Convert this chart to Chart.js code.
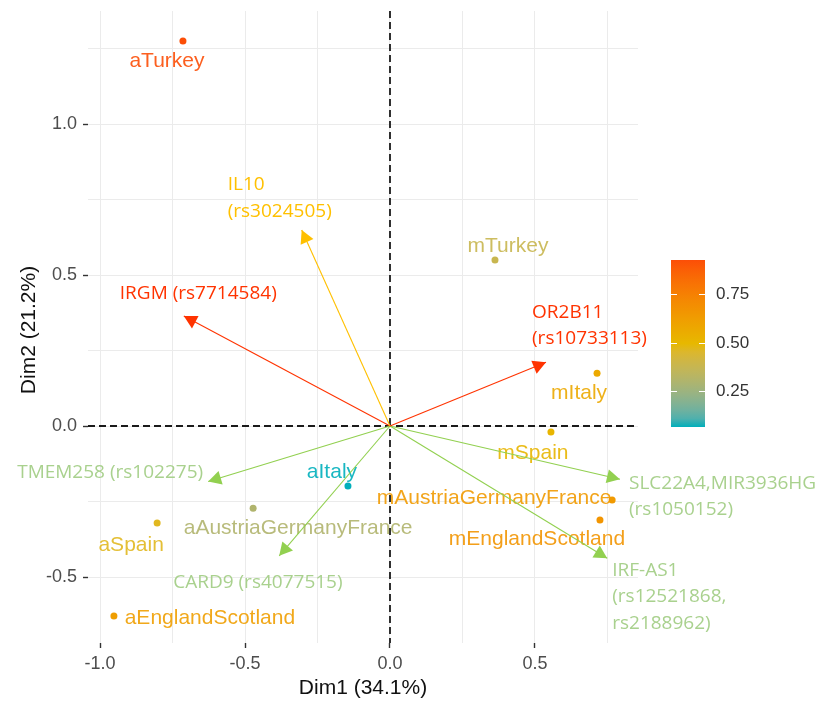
<!DOCTYPE html>
<html>
<head>
<meta charset="utf-8">
<script src="https://cdn.jsdelivr.net/npm/chart.js@4/dist/chart.umd.min.js"></script>
<style>
  html, body { margin: 0; padding: 0; background: #ffffff; }
  #wrap { width: 816px; height: 702px; }
</style>
</head>
<body>
<div id="wrap"><canvas id="c" width="816" height="702"></canvas></div>
<script>
// ---- Individuals: population groups on the first two dimensions ----
const groupNames = ['aTurkey', 'mTurkey', 'mItaly', 'mSpain', 'aItaly',
  'aAustriaGermanyFrance', 'aSpain', 'aEnglandScotland',
  'mAustriaGermanyFrance', 'mEnglandScotland'];
const groupDim1 = [-0.714, 0.362, 0.714, 0.555, -0.145, -0.472, -0.803, -0.952, 0.766, 0.724];
const groupDim2 = [1.275, 0.550, 0.175, -0.020, -0.199, -0.272, -0.321, -0.629, -0.245, -0.311];
const groupCos2 = [0.928, 0.38, 0.57, 0.51, 0.062, 0.30, 0.47, 0.62, 0.64, 0.66];
// repelled label placement, pixels from the point
const groupLabelDx = [-16, 13, -18, -18, -16, 45, -26, 96, -118, -63];
const groupLabelDy = [20, -14, 20, 21, -14, 20, 22, 2, -2, 19];

// ---- Variables: SNP loadings ----
const snpLabels = [
  ['IL10', '(rs3024505)'],
  ['IRGM (rs7714584)'],
  ['OR2B11', '(rs10733113)'],
  ['TMEM258 (rs102275)'],
  ['CARD9 (rs4077515)'],
  ['SLC22A4,MIR3936HG', '(rs1050152)'],
  ['IRF-AS1', '(rs12521868,', 'rs2188962)']
];
const snpDim1 = [-0.3045, -0.711, 0.538, -0.627, -0.382, 0.793, 0.749];
const snpDim2 = [0.649, 0.364, 0.211, -0.184, -0.430, -0.176, -0.438];
const snpLineColors = ['#FFC000', '#FF3300', '#FF3300', '#92D050', '#92D050', '#92D050', '#92D050'];
const snpTextColors = ['#FFC000', '#FF3300', '#FF3300', '#A9D18E', '#A9D18E', '#A9D18E', '#A9D18E'];
// label placement, pixels from the arrow tip (left edge, first line middle)
const snpLabelDx = [-74, -64, -14, -191, -106, 9, 5];
const snpLabelDy = [-45, -22, -50, -9, 27, 4, 12];

// ---- Axes ----
const xTicks = [-1, -0.75, -0.5, -0.25, 0, 0.25, 0.5, 0.75];
const yTicks = [-0.5, -0.25, 0, 0.25, 0.5, 0.75, 1, 1.25];
const legendTicks = [0.25, 0.5, 0.75];
const xTitle = 'Dim1 (34.1%)';
const yTitle = 'Dim2 (21.2%)';

// ---- colour ramp interpolated in CIELAB ----
const rampHex = ['#00AFBB', '#E7B800', '#FC4E07'];
function hexRgb(h) { return [1, 3, 5].map(i => parseInt(h.slice(i, i + 2), 16)); }
function toLab(rgb) {
  const [R, G, B] = rgb.map(c => { c /= 255; return c <= 0.04045 ? c / 12.92 : Math.pow((c + 0.055) / 1.055, 2.4); });
  const X = (0.4124564 * R + 0.3575761 * G + 0.1804375 * B) / 0.95047;
  const Y = (0.2126729 * R + 0.7151522 * G + 0.0721750 * B);
  const Z = (0.0193339 * R + 0.1191920 * G + 0.9503041 * B) / 1.08883;
  const f = t => t > 216 / 24389 ? Math.cbrt(t) : (24389 / 27 * t + 16) / 116;
  const fx = f(X), fy = f(Y), fz = f(Z);
  return [116 * fy - 16, 500 * (fx - fy), 200 * (fy - fz)];
}
function fromLab([L, a, b]) {
  const fy = (L + 16) / 116, fx = fy + a / 500, fz = fy - b / 200;
  const inv = t => { const t3 = t * t * t; return t3 > 216 / 24389 ? t3 : (116 * t - 16) / (24389 / 27); };
  const X = inv(fx) * 0.95047, Y = inv(fy), Z = inv(fz) * 1.08883;
  const R = 3.2404542 * X - 1.5371385 * Y - 0.4985314 * Z;
  const G = -0.9692660 * X + 1.8760108 * Y + 0.0415560 * Z;
  const B = 0.0556434 * X - 0.2040259 * Y + 1.0572252 * Z;
  const rgb = [R, G, B].map(c => {
    c = c <= 0.0031308 ? 12.92 * c : 1.055 * Math.pow(c, 1 / 2.4) - 0.055;
    return Math.round(Math.max(0, Math.min(1, c)) * 255);
  });
  return 'rgb(' + rgb.join(',') + ')';
}
const rampLab = rampHex.map(h => toLab(hexRgb(h)));
const cosMin = Math.min(...groupCos2), cosMax = Math.max(...groupCos2);
function rampColor(v) {
  let t = (v - cosMin) / (cosMax - cosMin);
  t = Math.max(0, Math.min(1, t));
  const seg = t < 0.5 ? 0 : 1;
  const u = (t - seg * 0.5) / 0.5;
  const A = rampLab[seg], B = rampLab[seg + 1];
  return fromLab([0, 1, 2].map(i => A[i] + (B[i] - A[i]) * u));
}
const groupColors = groupCos2.map(rampColor);

const isMajor = v => v !== undefined && Math.abs(v * 2 - Math.round(v * 2)) < 1e-9;

// ---- extra drawing: zero lines, labels, arrow heads, colour bar, titles ----
const biplotPlugin = {
  id: 'biplot',
  beforeDatasetsDraw(chart) {
    const { ctx, chartArea: a, scales: { x, y } } = chart;
    const x0 = x.getPixelForValue(0), y0 = y.getPixelForValue(0);
    ctx.save();
    ctx.strokeStyle = '#1a1a1a';
    ctx.lineWidth = 1.8;
    ctx.setLineDash([7, 4]);
    ctx.beginPath();
    ctx.moveTo(x0, a.top); ctx.lineTo(x0, a.bottom);
    ctx.moveTo(a.left, y0); ctx.lineTo(a.right, y0);
    ctx.stroke();
    ctx.setLineDash([]);
    // group labels
    ctx.font = '21px "Liberation Sans", Arial, sans-serif';
    ctx.textAlign = 'center';
    ctx.textBaseline = 'middle';
    groupNames.forEach((n, i) => {
      const px = x.getPixelForValue(groupDim1[i]), py = y.getPixelForValue(groupDim2[i]);
      ctx.fillStyle = groupColors[i];
      ctx.globalAlpha = 0.9;
      ctx.fillText(n, px + groupLabelDx[i], py + groupLabelDy[i]);
    });
    ctx.restore();
  },
  afterDatasetsDraw(chart) {
    const { ctx, chartArea: a, scales: { x, y } } = chart;
    const ox = x.getPixelForValue(0), oy = y.getPixelForValue(0);
    ctx.save();
    // arrow heads and SNP labels
    snpDim1.forEach((d1, i) => {
      const tx = x.getPixelForValue(d1), ty = y.getPixelForValue(snpDim2[i]);
      const len = Math.hypot(tx - ox, ty - oy);
      const ux = (tx - ox) / len, uy = (ty - oy) / len;
      const bx = tx - 13 * ux, by = ty - 13 * uy;
      ctx.fillStyle = snpLineColors[i];
      ctx.beginPath();
      ctx.moveTo(tx, ty);
      ctx.lineTo(bx - 7 * uy, by + 7 * ux);
      ctx.lineTo(bx + 7 * uy, by - 7 * ux);
      ctx.closePath();
      ctx.fill();
      ctx.font = '19px "Open Sans", sans-serif';
      ctx.textAlign = 'left';
      ctx.textBaseline = 'middle';
      ctx.fillStyle = snpTextColors[i];
      snpLabels[i].forEach((line, k) => {
        ctx.fillText(line, tx + snpLabelDx[i], ty + snpLabelDy[i] + k * 26.5);
      });
    });

    // colour bar
    const barL = 671, barR = 705, barT = 260, barB = 427;
    const vy = v => barB - (v - cosMin) / (cosMax - cosMin) * (barB - barT);
    const grad = ctx.createLinearGradient(0, barB, 0, barT);
    for (let s = 0; s <= 20; s++) {
      grad.addColorStop(s / 20, rampColor(cosMin + (cosMax - cosMin) * s / 20));
    }
    ctx.fillStyle = grad;
    ctx.fillRect(barL, barT, barR - barL, barB - barT);
    ctx.strokeStyle = '#ffffff';
    ctx.lineWidth = 1.2;
    ctx.font = '17px "Liberation Sans", Arial, sans-serif';
    ctx.fillStyle = '#333333';
    ctx.textAlign = 'left';
    ctx.textBaseline = 'middle';
    legendTicks.forEach(v => {
      const py = Math.round(vy(v)) + 0.5;
      ctx.beginPath();
      ctx.moveTo(barL, py); ctx.lineTo(barL + 6, py);
      ctx.moveTo(barR - 6, py); ctx.lineTo(barR, py);
      ctx.stroke();
      ctx.fillText(v.toFixed(2), 716, py);
    });

    // axis titles
    ctx.fillStyle = '#111111';
    ctx.font = '21px "Liberation Sans", Arial, sans-serif';
    ctx.textAlign = 'center';
    ctx.textBaseline = 'middle';
    ctx.fillText(xTitle, (a.left + a.right) / 2, 688);
    ctx.translate(29, (a.top + a.bottom) / 2 + 3);
    ctx.rotate(-Math.PI / 2);
    ctx.fillText(yTitle, 0, 0);
    ctx.restore();
  }
};

const pointsDataset = {
  label: 'groups',
  data: groupDim1.map((v, i) => ({ x: v, y: groupDim2[i] })),
  pointRadius: 3.5,
  pointBackgroundColor: groupColors,
  pointBorderWidth: 0,
  showLine: false
};
const arrowDatasets = snpDim1.map((v, i) => ({
  label: snpLabels[i].join(' '),
  data: [{ x: 0, y: 0 }, { x: v, y: snpDim2[i] }],
  showLine: true,
  borderColor: snpLineColors[i],
  borderWidth: 1.1,
  pointRadius: 0
}));

const tickFont = { family: 'Liberation Sans', size: 18 };
function axisGrid() {
  return {
    color: '#EBEBEB',
    lineWidth: 1,
    tickLength: 5,
    tickWidth: 1.4,
    tickColor: ctx => (ctx.tick && isMajor(ctx.tick.value)) ? '#333333' : 'rgba(0,0,0,0)'
  };
}

new Chart(document.getElementById('c'), {
  type: 'scatter',
  data: { datasets: [pointsDataset, ...arrowDatasets] },
  options: {
    responsive: false,
    animation: false,
    devicePixelRatio: 1,
    layout: { padding: { left: 0, top: 11, right: 178, bottom: 0 } },
    plugins: { legend: { display: false }, tooltip: { enabled: false } },
    scales: {
      x: {
        type: 'linear', min: -1.0414, max: 0.8552,
        afterFit(s) { s.height = 59; s.paddingLeft = 0; s.paddingRight = 0; },
        afterBuildTicks(s) { s.ticks = xTicks.map(v => ({ value: v })); },
        grid: axisGrid(),
        border: { display: false },
        ticks: {
          autoSkip: false, maxRotation: 0, minRotation: 0, padding: 5,
          color: '#4D4D4D', font: tickFont,
          callback: v => isMajor(v) ? v.toFixed(1) : ''
        }
      },
      y: {
        type: 'linear', min: -0.7185, max: 1.3742,
        afterFit(s) { s.width = 88; s.paddingTop = 0; s.paddingBottom = 0; },
        afterBuildTicks(s) { s.ticks = yTicks.map(v => ({ value: v })); },
        grid: axisGrid(),
        border: { display: false },
        ticks: {
          autoSkip: false, padding: 6,
          color: '#4D4D4D', font: tickFont,
          callback: v => isMajor(v) ? v.toFixed(1) : ''
        }
      }
    }
  },
  plugins: [biplotPlugin]
});
</script>
</body>
</html>
